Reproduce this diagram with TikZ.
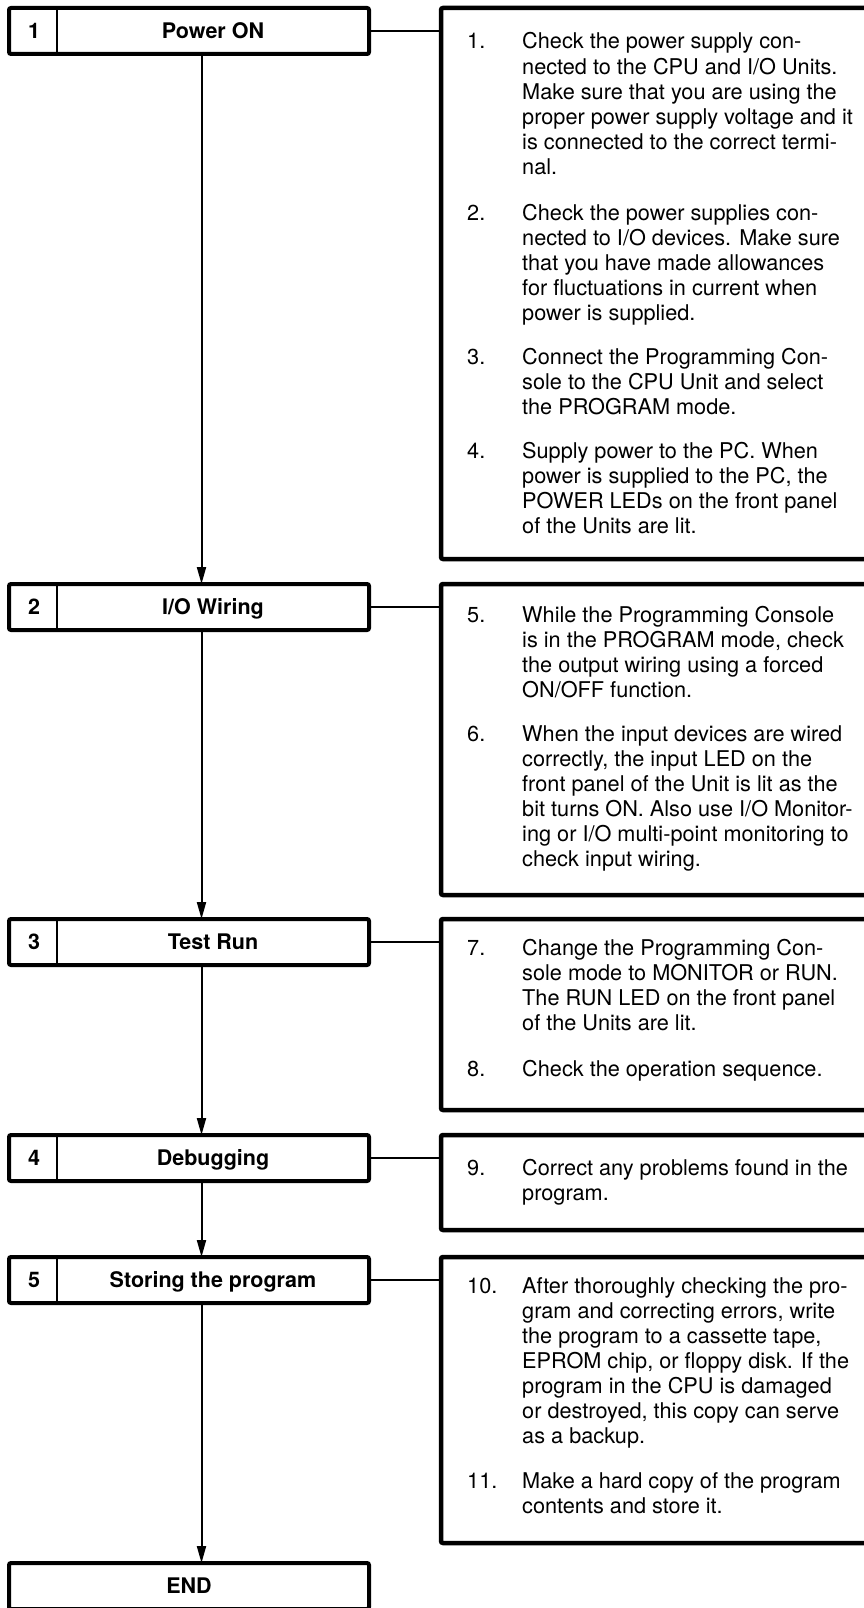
\documentclass[tikz,border=0pt]{standalone}
\usepackage{fontspec}
\setmainfont{TeX Gyre Heros}
\usetikzlibrary{arrows.meta}
\tikzset{
  stepbox/.style={draw, line width=4pt, rounded corners=2pt, minimum width=360pt, minimum height=46pt, inner sep=0pt, outer sep=0pt, anchor=north west},
  infobox/.style={draw, line width=4.5pt, rounded corners=2pt, minimum width=470pt, inner sep=0pt, outer sep=0pt, anchor=north west},
  lbl/.style={font=\bfseries\fontsize{21.5}{25}\selectfont, inner sep=0pt, text height=15pt, text depth=0pt},
  item/.style={anchor=base west, inner sep=0pt, font=\fontsize{21.7}{25.1}\selectfont},
  link/.style={line width=2pt},
  sepline/.style={line width=2pt},
  flow/.style={line width=2pt, -{Triangle[length=17pt,width=9pt]}},
}
\newcommand{\itemtext}[1]{\parbox[t]{380pt}{\raggedright #1}}
\begin{document}
\begin{tikzpicture}[x=1pt,y=-1pt]
\useasboundingbox (0,0) rectangle (864,1608);

% step boxes
\node[stepbox] (s1) at (9,8) {};
\node[stepbox] (s2) at (9,584) {};
\node[stepbox] (s3) at (9,919) {};
\node[stepbox] (s4) at (9,1135) {};
\node[stepbox] (s5) at (9,1257) {};
\node[stepbox] (s6) at (9,1563) {};

\foreach \s/\n/\t in {s1/1/{Power ON}, s2/2/{I/O Wiring}, s3/3/{Test Run}, s4/4/{Debugging}, s5/5/{Storing the program}}{
  \draw[sepline] ([xshift=48pt]\s.north west) -- ([xshift=48pt]\s.south west);
  \node[lbl] (\s num) at ([xshift=25pt]\s.west) {\n};
  \node[lbl] (\s lab) at ([xshift=24pt]\s.center) {\t};
}
\node[lbl] (s6lab) at (s6.center) {END};

% flow arrows
\foreach \a/\b in {s1/s2, s2/s3, s3/s4, s4/s5, s5/s6}{
  \draw[flow] ([xshift=12.5pt]\a.south) -- ([xshift=12.5pt]\b.north);
}

% info boxes
\node[infobox, minimum height=551pt] (r1) at (441,8) {};
\node[infobox, minimum height=311pt] (r2) at (441,584) {};
\node[infobox, minimum height=191pt] (r3) at (441,919) {};
\node[infobox, minimum height=95pt] (r4) at (441,1135) {};
\node[infobox, minimum height=286pt] (r5) at (441,1257) {};

\foreach \s/\r in {s1/r1, s2/r2, s3/r3, s4/r4, s5/r5}{
  \draw[link] (\s.east) -- (\s.east -| \r.west);
}

% item texts
\node[item] (k1) at (467,49) {1.};
\node[item] (x1) at (522,49) {\itemtext{Check the power supply con-\\nected to the CPU and I/O Units.\\Make sure that you are using the\\proper power supply voltage and it\\is connected to the correct termi-\\nal.}};
\node[item] (k2) at (467,220) {2.};
\node[item] (x2) at (522,220) {\itemtext{Check the power supplies con-\\nected to I/O devices. Make sure\\that you have made allowances\\for fluctuations in current when\\power is supplied.}};
\node[item] (k3) at (467,364) {3.};
\node[item] (x3) at (522,364) {\itemtext{Connect the Programming Con-\\sole to the CPU Unit and select\\the PROGRAM mode.}};
\node[item] (k4) at (467,458) {4.};
\node[item] (x4) at (522,458) {\itemtext{Supply power to the PC. When\\power is supplied to the PC, the\\POWER LEDs on the front panel\\of the Units are lit.}};

\node[item] (k5) at (467,622) {5.};
\node[item] (x5) at (522,622) {\itemtext{While the Programming Console\\is in the PROGRAM mode, check\\the output wiring using a forced\\ON/OFF function.}};
\node[item] (k6) at (467,741) {6.};
\node[item] (x6) at (522,741) {\itemtext{When the input devices are wired\\correctly, the input LED on the\\front panel of the Unit is lit as the\\bit turns ON. Also use I/O Monitor-\\ing or I/O multi-point monitoring to\\check input wiring.}};

\node[item] (k7) at (467,955) {7.};
\node[item] (x7) at (522,955) {\itemtext{Change the Programming Con-\\sole mode to MONITOR or RUN.\\The RUN LED on the front panel\\of the Units are lit.}};
\node[item] (k8) at (467,1076) {8.};
\node[item] (x8) at (522,1076) {\itemtext{Check the operation sequence.}};

\node[item] (k9) at (467,1175) {9.};
\node[item] (x9) at (522,1175) {\itemtext{Correct any problems found in the\\program.}};

\node[item] (k10) at (467,1293) {10.};
\node[item] (x10) at (522,1293) {\itemtext{After thoroughly checking the pro-\\gram and correcting errors, write\\the program to a cassette tape,\\EPROM chip, or floppy disk. If the\\program in the CPU is damaged\\or destroyed, this copy can serve\\as a backup.}};
\node[item] (k11) at (467,1488) {11.};
\node[item] (x11) at (522,1488) {\itemtext{Make a hard copy of the program\\contents and store it.}};
\end{tikzpicture}
\end{document}
